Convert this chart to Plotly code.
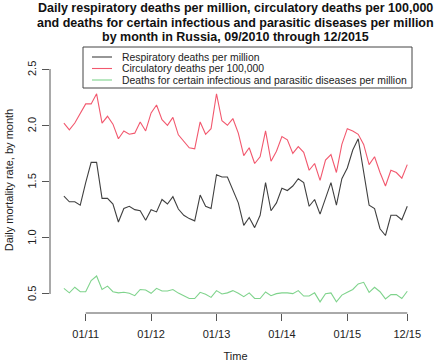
import plotly.graph_objects as go

# months from 09/2010 (index 0) to 12/2015 (index 63)
month_index = list(range(64))

respiratory = [1.37, 1.32, 1.32, 1.29, 1.49, 1.67, 1.67, 1.35, 1.35, 1.30,
               1.14, 1.26, 1.28, 1.25, 1.24, 1.155, 1.25, 1.23, 1.34, 1.30,
               1.365, 1.255, 1.20, 1.17, 1.15, 1.38, 1.28, 1.26, 1.56, 1.54,
               1.54, 1.42, 1.31, 1.11, 1.18, 1.09, 1.20, 1.49, 1.24, 1.31,
               1.44, 1.42, 1.46, 1.525, 1.49, 1.28, 1.34, 1.21, 1.35, 1.49,
               1.29, 1.525, 1.62, 1.78, 1.88, 1.58, 1.29, 1.26, 1.08, 1.02,
               1.20, 1.20, 1.16, 1.28]

circulatory = [2.02, 1.96, 2.02, 2.11, 2.19, 2.19, 2.28, 2.02, 2.08, 2.01,
               1.88, 1.95, 1.92, 1.93, 2.03, 1.95, 2.11, 2.18, 2.05, 2.00,
               2.07, 1.915, 1.86, 1.80, 1.79, 2.03, 1.92, 1.97, 2.28, 2.04,
               2.00, 2.06, 1.93, 1.73, 1.80, 1.66, 1.72, 1.95, 1.68, 1.77,
               1.90, 1.87, 1.75, 1.81, 1.76, 1.60, 1.66, 1.51, 1.69, 1.74,
               1.58, 1.83, 1.97, 1.95, 1.92, 1.83, 1.65, 1.72, 1.58, 1.46,
               1.60, 1.58, 1.53, 1.65]

infectious = [0.55, 0.51, 0.56, 0.52, 0.52, 0.62, 0.66, 0.54, 0.57, 0.52,
              0.51, 0.515, 0.506, 0.485, 0.54, 0.535, 0.506, 0.55, 0.527, 0.527,
              0.54, 0.508, 0.485, 0.46, 0.46, 0.515, 0.497, 0.47, 0.53, 0.50,
              0.51, 0.53, 0.506, 0.476, 0.51, 0.46, 0.46, 0.518, 0.485, 0.503,
              0.51, 0.51, 0.503, 0.53, 0.482, 0.482, 0.51, 0.43, 0.503, 0.51,
              0.43, 0.49, 0.515, 0.54, 0.59, 0.604, 0.515, 0.56, 0.52, 0.456,
              0.494, 0.494, 0.46, 0.524]

series_names = ["Respiratory deaths per million",
                "Circulatory deaths per 100,000",
                "Deaths for certain infectious and parasitic diseases per million"]
series_colors = ["#404040", "#f2586e", "#7fd38c"]

x_tick_positions = [4, 16, 28, 40, 52, 63]
x_tick_labels = ["01/11", "01/12", "01/13", "01/14", "01/15", "12/15"]
y_tick_values = [0.5, 1.0, 1.5, 2.0, 2.5]
y_tick_labels = ["0.5", "1.0", "1.5", "2.0", "2.5"]

title_lines = ["Daily respiratory deaths per million, circulatory deaths per 100,000",
               "and deaths for certain infectious and parasitic diseases per million",
               "by month in Russia, 09/2010 through 12/2015"]

FONT = "Liberation Sans, Arial, sans-serif"
AXIS_COLOR = "#555555"
TEXT_COLOR = "#222222"

fig = go.Figure()
for name, vals, col in zip(series_names, [respiratory, circulatory, infectious], series_colors):
    fig.add_trace(go.Scatter(x=month_index, y=vals, mode="lines", name=name,
                             line=dict(color=col, width=1.1), showlegend=False))

shapes = []
# R-style axis lines spanning from first to last tick
shapes.append(dict(type="line", xref="x", yref="paper",
                   x0=x_tick_positions[0], x1=x_tick_positions[-1], y0=0, y1=0,
                   line=dict(color=AXIS_COLOR, width=1)))
shapes.append(dict(type="line", xref="paper", yref="y",
                   x0=0, x1=0, y0=y_tick_values[0], y1=y_tick_values[-1],
                   line=dict(color=AXIS_COLOR, width=1)))

plot_l, plot_r, plot_t, plot_b = 50, 421, 47, 313
pw, ph = plot_r - plot_l, plot_b - plot_t
def px_x(p):
    return (p - plot_l) / pw
def px_y(p):
    return (plot_b - p) / ph

annotations = []
# R-style rotated y tick labels
for v, lab in zip(y_tick_values, y_tick_labels):
    annotations.append(dict(xref="paper", yref="y", x=px_x(32), y=v, text=lab,
                            showarrow=False, textangle=-90, xanchor="center", yanchor="middle",
                            font=dict(family=FONT, size=11, color=TEXT_COLOR)))

# legend box (R style)
shapes.append(dict(type="rect", xref="paper", yref="paper",
                   x0=px_x(83), x1=px_x(412), y0=px_y(88), y1=px_y(47),
                   line=dict(color="#444444", width=1), fillcolor="rgba(0,0,0,0)"))
row_y = [57, 68.5, 80]
for name, col, ry in zip(series_names, series_colors, row_y):
    shapes.append(dict(type="line", xref="paper", yref="paper",
                       x0=px_x(92), x1=px_x(112), y0=px_y(ry), y1=px_y(ry),
                       line=dict(color=col, width=1.1)))
    annotations.append(dict(xref="paper", yref="paper", x=px_x(120), y=px_y(ry),
                            text=name, showarrow=False, xanchor="left", yanchor="middle",
                            font=dict(family=FONT, size=10.4, color=TEXT_COLOR)))

title_y = [8, 22.5, 37]
for line, ty in zip(title_lines, title_y):
    annotations.append(dict(xref="paper", yref="paper", x=0.5, y=px_y(ty),
                            text="<b>" + line + "</b>", showarrow=False,
                            xanchor="center", yanchor="middle",
                            font=dict(family=FONT, size=12.5, color="#111111")))

fig.update_layout(
    width=440, height=363,
    margin=dict(l=plot_l, r=440 - plot_r, t=plot_t, b=363 - plot_b, pad=0, autoexpand=False),
    paper_bgcolor="white", plot_bgcolor="white",
    shapes=shapes, annotations=annotations,
    font=dict(family=FONT, size=11, color=TEXT_COLOR),
    xaxis=dict(range=[-2.55, 65.52], showgrid=False, zeroline=False, showline=False,
               automargin=False,
               tickmode="array", tickvals=x_tick_positions, ticktext=x_tick_labels,
               ticks="outside", ticklen=7, tickcolor=AXIS_COLOR, tickwidth=1,
               ticklabelstandoff=4,
               title=dict(text="Time", font=dict(size=11), standoff=13)),
    yaxis=dict(range=[0.331, 2.696], showgrid=False, zeroline=False, showline=False,
               automargin=False, showticklabels=False,
               tickmode="array", tickvals=y_tick_values,
               ticks="outside", ticklen=7, tickcolor=AXIS_COLOR, tickwidth=1,
               title=dict(text="Daily mortality rate, by month", font=dict(size=11), standoff=26)),
)

fig.write_html("out.html", config={"displayModeBar": False},
               post_script="document.body.style.margin='0';document.body.style.overflow='hidden';")
